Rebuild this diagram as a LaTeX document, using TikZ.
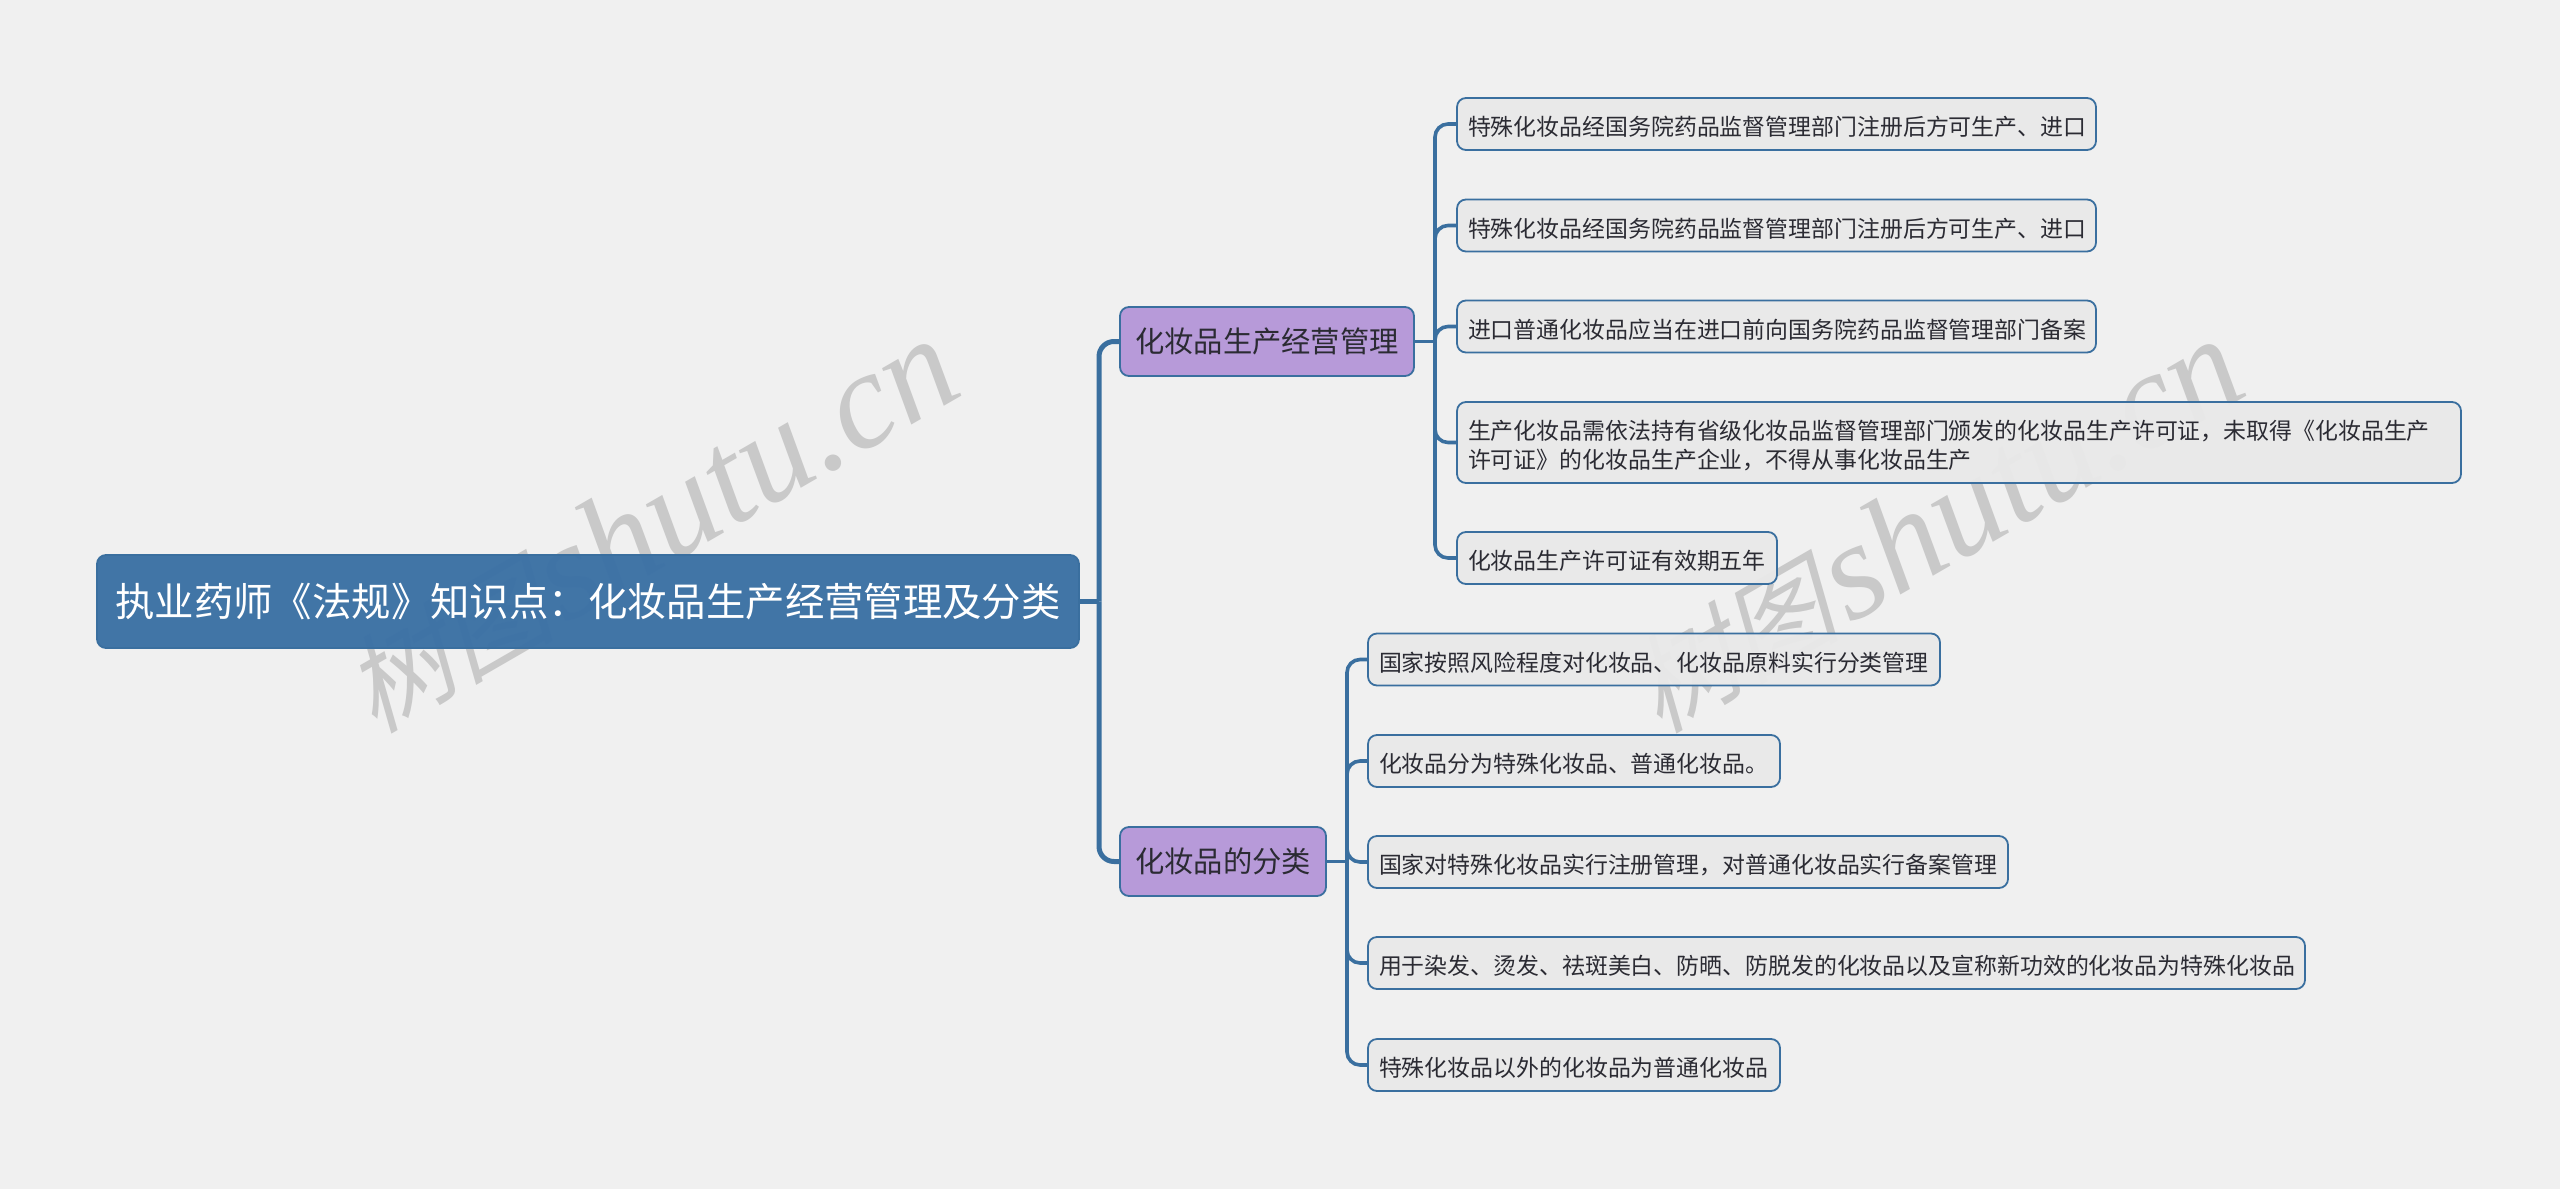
\documentclass[tikz,border=0pt]{standalone}
\usepackage{fontspec}
\setmainfont{Noto Sans CJK SC}
\newfontfamily\markcjk[FakeSlant=0.25]{Noto Sans CJK SC}
\newfontfamily\marklatin{Liberation Serif}[ItalicFont=* Italic]
\usetikzlibrary{positioning}
\definecolor{paper}{HTML}{F0F0F0}
\definecolor{linkblue}{HTML}{3A6F9F}
\definecolor{rootblue}{HTML}{3A70A4}
\definecolor{kindpurple}{HTML}{B597D9}
\definecolor{leafgrey}{HTML}{E9E9E9}
\definecolor{inkdark}{HTML}{2B2B33}
\definecolor{markgrey}{HTML}{C9C9C9}

\begin{document}
\begin{tikzpicture}[
    x=1pt, y=-1pt,
    every node/.style={
        rounded corners=9pt,
        draw=linkblue,
        line width=1.8pt,
        outer sep=0pt,
        anchor=west,
        fill opacity=0.96,
        text opacity=1
    },
    rootbox/.style={
        fill=rootblue, text=white,
        minimum width=982pt, minimum height=93pt,
        font=\fontsize{39.4}{46}\selectfont
    },
    topicbox/.style={
        fill=kindpurple, text=inkdark,
        minimum height=69pt, minimum width=#1,
        font=\fontsize{29.3}{36}\selectfont
    },
    leafbox/.style={
        fill=leafgrey, text=inkdark,
        inner xsep=11pt, inner ysep=0pt,
        text width=#1-2pt, align=left,
        minimum height=52pt,
        execute at begin node={\rule{0pt}{25pt}},
        font=\fontsize{22.9}{28.5}\selectfont
    },
    mainlink/.style={draw=linkblue, line width=5pt, rounded corners=15pt},
    sublink/.style={draw=linkblue, line width=3.6pt, rounded corners=13pt},
    watermark/.style={
        draw=none, fill=none, anchor=center, rotate=30,
        text=markgrey,
        font=\fontsize{138}{140}\selectfont
    }
]
\fill[paper] (0,0) rectangle (2560,1189);
\useasboundingbox (0,0) rectangle (2560,1189);

% marks lie under everything else
\node[watermark] (mark1) at (649,526) {{\markcjk\fontsize{106}{130}\selectfont 树图}\hspace{8pt}\marklatin\itshape shutu.cn};
\node[watermark] (mark2) at (1934,526) {{\markcjk\fontsize{106}{130}\selectfont 树图}\hspace{8pt}\marklatin\itshape shutu.cn};

\coordinate (hubroot) at (1099,601.5);
\coordinate (hubmake) at (1435,341.5);
\coordinate (hubkind) at (1347,861.5);

% links go under the boxes
\draw[mainlink] (hubroot) |- (1120,341.5);
\draw[mainlink] (hubroot) |- (1120,861.5);
\draw[mainlink] (1079,601.5) -- (hubroot);
\draw[sublink] (1414,341.5) -- (hubmake);
\draw[sublink] (1326,861.5) -- (hubkind);
\foreach \y in {124,225.5,326.5,442.5,558}
    \draw[sublink] (hubmake) |- (1457,\y);
\foreach \y in {659.5,761,862,963,1065}
    \draw[sublink] (hubkind) |- (1368,\y);

\node[rootbox] (root) at (97,601.5) {执业药师《法规》知识点：化妆品生产经营管理及分类};
\node[topicbox=294pt] (make) at (1120,341.5) {化妆品生产经营管理};
\node[topicbox=206pt] (kind) at (1120,861.5) {化妆品的分类};

\node[leafbox=619pt] (make1) at (1457,124) {特殊化妆品经国务院药品监督管理部门注册后方可生产、进口};
\node[leafbox=619pt] (make2) at (1457,225.5) {特殊化妆品经国务院药品监督管理部门注册后方可生产、进口};
\node[leafbox=619pt] (make3) at (1457,326.5) {进口普通化妆品应当在进口前向国务院药品监督管理部门备案};
\node[leafbox=984pt, minimum height=81pt] (make4) at (1457,442.5) {生产化妆品需依法持有省级化妆品监督管理部门颁发的化妆品生产许可证，未取得《化妆品生产\\许可证》的化妆品生产企业，不得从事化妆品生产};
\node[leafbox=300pt] (make5) at (1457,558) {化妆品生产许可证有效期五年};

\node[leafbox=552pt] (kind1) at (1368,659.5) {国家按照风险程度对化妆品、化妆品原料实行分类管理};
\node[leafbox=392pt] (kind2) at (1368,761) {化妆品分为特殊化妆品、普通化妆品。};
\node[leafbox=620pt] (kind3) at (1368,862) {国家对特殊化妆品实行注册管理，对普通化妆品实行备案管理};
\node[leafbox=917pt] (kind4) at (1368,963) {用于染发、烫发、祛斑美白、防晒、防脱发的化妆品以及宣称新功效的化妆品为特殊化妆品};
\node[leafbox=392pt] (kind5) at (1368,1065) {特殊化妆品以外的化妆品为普通化妆品};
\end{tikzpicture}
\end{document}
